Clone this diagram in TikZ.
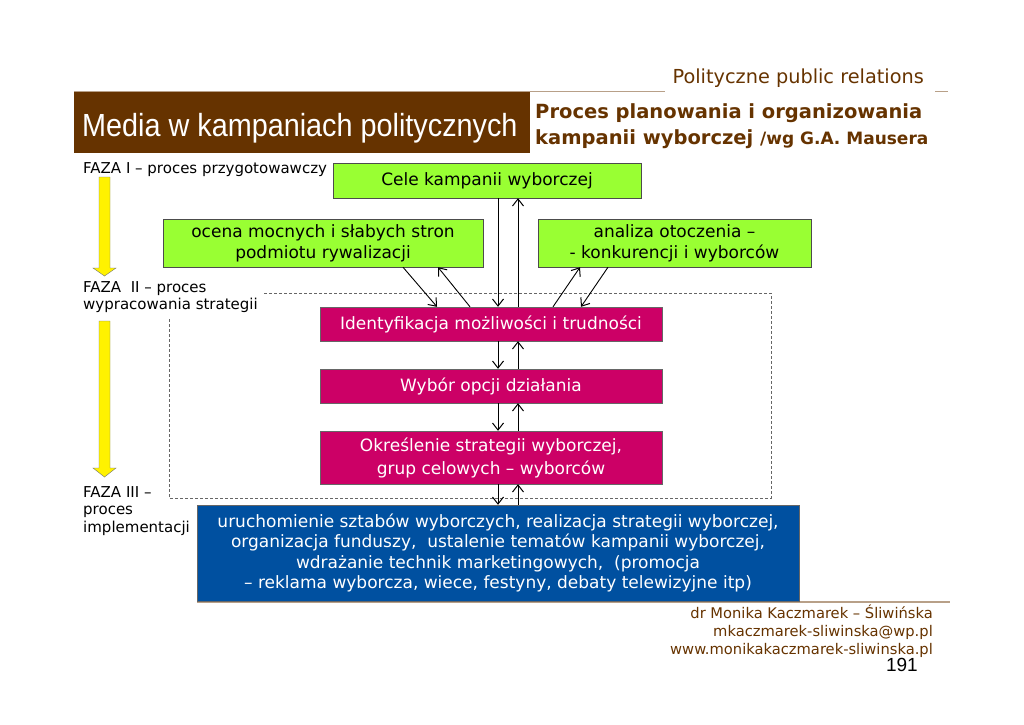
\documentclass[tikz,border=0pt]{standalone}
\usepackage{fontspec}
\setmainfont{DejaVu Sans}
\newfontfamily\titlefont[FakeStretch=0.9]{Liberation Sans}
\newfontfamily\pagefont{Liberation Sans}
\usepackage{tikz}
\usetikzlibrary{arrows.meta}
\definecolor{slidebrown}{HTML}{663300}
\definecolor{slidetan}{HTML}{B8A088}
\definecolor{boxgreen}{HTML}{99FF33}
\definecolor{boxpink}{HTML}{CC0066}
\definecolor{boxblue}{HTML}{0050A0}

\begin{document}
\begin{tikzpicture}[x=1pt,y=-1pt,
		greenbox/.style={draw=black!70, fill=boxgreen, inner sep=0pt, align=center, font=\fontsize{17}{21}\selectfont},
		pinkbox/.style={draw=black!60, fill=boxpink, text=white, inner sep=0pt, align=center, font=\fontsize{17}{23}\selectfont},
		phase/.style={anchor=west, inner sep=0pt, align=left, font=\fontsize{15}{17.5}\selectfont},
		footer/.style={anchor=base east, inner sep=0pt, text=slidebrown, font=\fontsize{14.7}{17.5}\selectfont},
		link/.style={-{Straight Barb[length=7pt,width=11pt,line width=1pt]}, line width=0.9pt, black}]
		\useasboundingbox (0,0) rectangle (1024,724);
		
		\draw[slidetan, line width=1.2pt] (74,91.5) -- (665,91.5) (935,91.5) -- (948,91.5);
		\draw[slidetan, line width=1.2pt] (197,602) -- (950,602);
		\node[anchor=base east, inner sep=0pt, text=slidebrown, font=\fontsize{19.3}{22}\selectfont] (header) at (924,83) {Polityczne public relations};
		\node[fill=slidebrown, minimum width=456, minimum height=61, inner sep=0pt] (titlebar) at (302,122.5) {};
		\node[anchor=west, inner sep=0pt, text=white, font=\titlefont\fontsize{32}{36}\selectfont] (title) at (82,128) {Media w kampaniach politycznych};
		\node[anchor=west, inner sep=0pt, text=slidebrown, font=\bfseries\fontsize{19.5}{22}\selectfont] (sub1) at (535,113) {Proces planowania i organizowania};
		\node[anchor=west, inner sep=0pt, text=slidebrown, font=\bfseries\fontsize{19.5}{22}\selectfont] (sub2) at (535,139) {kampanii wyborczej \fontsize{17}{20}\selectfont/wg G.A. Mausera};
		
		\node[phase] (faza1) at (83,170) {FAZA I -- proces przygotowawczy};
		\node[phase] (faza2) at (83,297) {FAZA\ \ II -- proces\\wypracowania strategii};
		\node[phase] (faza3) at (83,511) {FAZA III --\\proces\\implementacji};
		\filldraw[fill=yellow, draw=black!55] (99,177) -- (110,177) -- (110,268) -- (116,268) -- (104.5,276) -- (93,268) -- (99,268) -- cycle;
		\filldraw[fill=yellow, draw=black!55] (99,321) -- (110,321) -- (110,468) -- (116,468) -- (104.5,477) -- (93,468) -- (99,468) -- cycle;
		\draw[black!60, dash pattern=on 3pt off 2pt] (264,293) -- (771,293) -- (771,498) -- (169,498) -- (169,318);
		
		\node[greenbox, minimum width=308, minimum height=35] (cele) at (487,180.5) {Cele kampanii wyborczej};
		\node[greenbox, minimum width=320, minimum height=48] (ocena) at (323,243) {ocena mocnych i słabych stron\\podmiotu rywalizacji};
		\node[greenbox, minimum width=273, minimum height=48] (analiza) at (674.5,243) {analiza otoczenia --\\- konkurencji i wyborców};
		\node[pinkbox, minimum width=342, minimum height=34] (ident) at (491,324) {Identyfikacja możliwości i trudności};
		\node[pinkbox, minimum width=342, minimum height=34] (wybor) at (491,386) {Wybór opcji działania};
		\node[pinkbox, minimum width=342, minimum height=53] (okres) at (491,457.5) {Określenie strategii wyborczej,\\grup celowych -- wyborców};
		\node[draw=black!60, fill=boxblue, text=white, inner sep=0pt, align=center, font=\fontsize{17}{20.3}\selectfont, minimum width=602, minimum height=96] (uruch) at (498,553) {uruchomienie sztabów wyborczych, realizacja strategii wyborczej,\\organizacja funduszy,\ \ ustalenie tematów kampanii wyborczej,\\wdrażanie technik marketingowych,\ \ (promocja\\-- reklama wyborcza, wiece, festyny, debaty telewizyjne itp)};
		
		\coordinate (down) at (498,0);
		\coordinate (up) at (518,0);
		\foreach \a/\b in {cele/ident, ident/wybor, wybor/okres, okres/uruch}{
			\draw[link] (\a.south -| down) -- (\b.north -| down);
			\draw[link] (\b.north -| up) -- (\a.south -| up);
		}
		\draw[link] ([xshift=80]ocena.south) -- ([xshift=-54]ident.north);
		\draw[link] ([xshift=-21]ident.north) -- ([xshift=115]ocena.south);
		\draw[link] ([xshift=62]ident.north) -- ([xshift=-94.5]analiza.south);
		\draw[link] ([xshift=-66.5]analiza.south) -- ([xshift=90]ident.north);
		
		\node[footer] (author) at (933,618) {dr Monika Kaczmarek -- Śliwińska};
		\node[footer] (email) at (933,636) {mkaczmarek-sliwinska@wp.pl};
		\node[footer] (www) at (933,654) {www.monikakaczmarek-sliwinska.pl};
		\node[anchor=base east, inner sep=0pt, font=\pagefont\fontsize{19}{22}\selectfont] (pageno) at (918,671) {191};
	\end{tikzpicture}
\end{document}
